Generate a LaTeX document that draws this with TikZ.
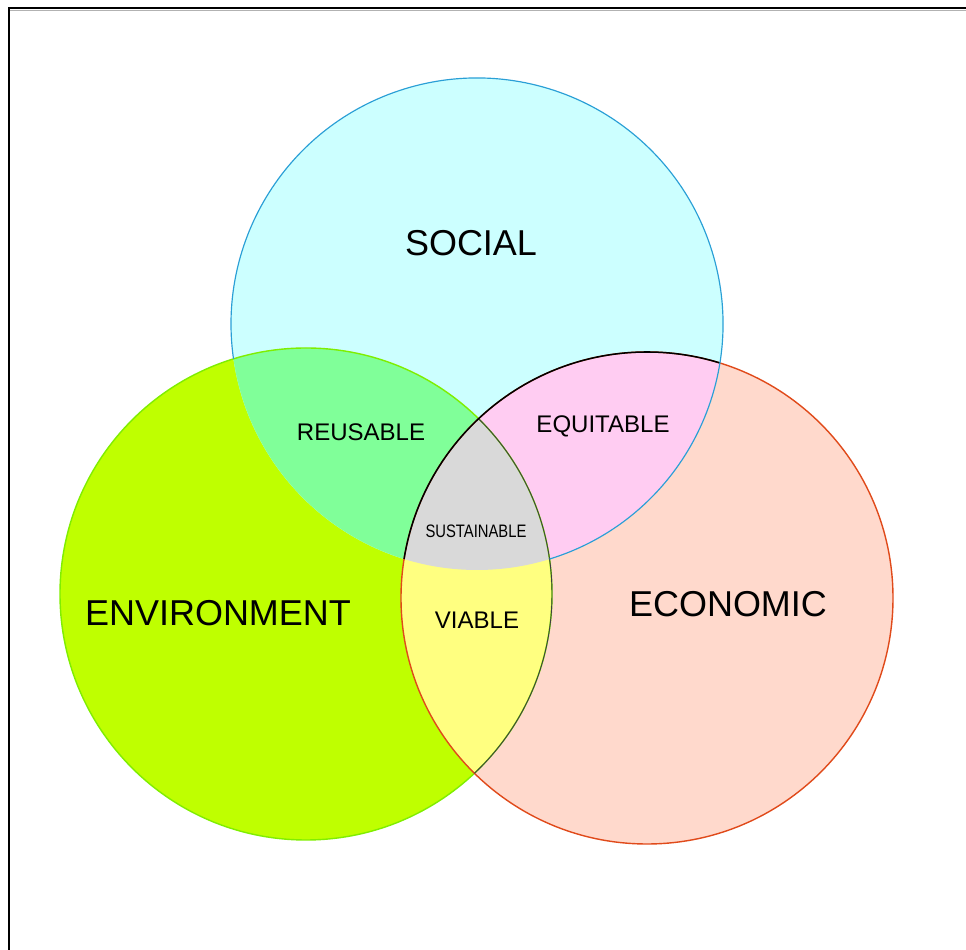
\documentclass[tikz,border=0pt]{standalone}
\usepackage{fontspec}
\setmainfont{Liberation Sans}
\definecolor{socfill}{HTML}{CCFFFF}
\definecolor{envfill}{HTML}{BFFF00}
\definecolor{ecofill}{HTML}{FFD9CC}
\definecolor{mintfill}{HTML}{80FF99}
\definecolor{pinkfill}{HTML}{FFCCF2}
\definecolor{yelfill}{HTML}{FFFF80}
\definecolor{greyfill}{HTML}{D9D9D9}
\definecolor{socline}{HTML}{2A9FD6}
\definecolor{envline}{HTML}{7FEE00}
\definecolor{ecoline}{HTML}{E04A1A}
\begin{document}
\begin{tikzpicture}[x=0.03cm,y=0.03cm,
  big/.style={font=\fontsize{30.7}{32}\selectfont},
  small/.style={font=\fontsize{20.5}{22}\selectfont},
  tiny/.style={font=\fontsize{15.4}{16}\selectfont}]
\useasboundingbox (0,0) rectangle (966,950);
\coordinate (soc) at (477,626);
\coordinate (env) at (306,356);
\coordinate (eco) at (647,352);
\fill [envfill] (env) circle (246);
\fill [ecofill] (eco) circle (246);
\fill [socfill] (soc) circle (246);
\begin{scope}
\clip (soc) circle (246);
\fill [mintfill] (env) circle (246);
\fill [pinkfill] (eco) circle (246);
\end{scope}
\begin{scope}
\clip (env) circle (246);
\fill [yelfill] (eco) circle (246);
\clip (soc) circle (246);
\fill [greyfill] (eco) circle (246);
\end{scope}
\draw [envline, line width=1.2pt] (env) circle (246);
\draw [ecoline, line width=1.2pt] (eco) circle (246);
\begin{scope}
\clip (eco) circle (246);
\draw [black!75, line width=0.8pt] (env) circle (246);
\end{scope}
\begin{scope}
\clip (soc) circle (246);
\draw [black, line width=1.3pt] (eco) circle (246);
\end{scope}
\draw [socline, line width=1pt] (soc) ++(-72.85:246) arc [start angle=-72.85, end angle=188.15, radius=246];
\draw [line width=1.7pt] (9,0) -- (9,942) -- (966,942);
\draw [gray!60, line width=0.6pt] (10,939.5) -- (966,939.5);
\node [big] (social) at (471,707) {SOCIAL};
\node [big] (environment) at (218,337) {ENVIRONMENT};
\node [big] (economic) at (728,346) {ECONOMIC};
\node [small] (reusable) at (361,518) {REUSABLE};
\node [small] (equitable) at (603,524) {EQUITABLE};
\node [small] (viable) at (477,330) {VIABLE};
\node [tiny] (sustainable) at (476,419) {\scalebox{0.82}[1]{SUSTAINABLE}};
\end{tikzpicture}
\end{document}
